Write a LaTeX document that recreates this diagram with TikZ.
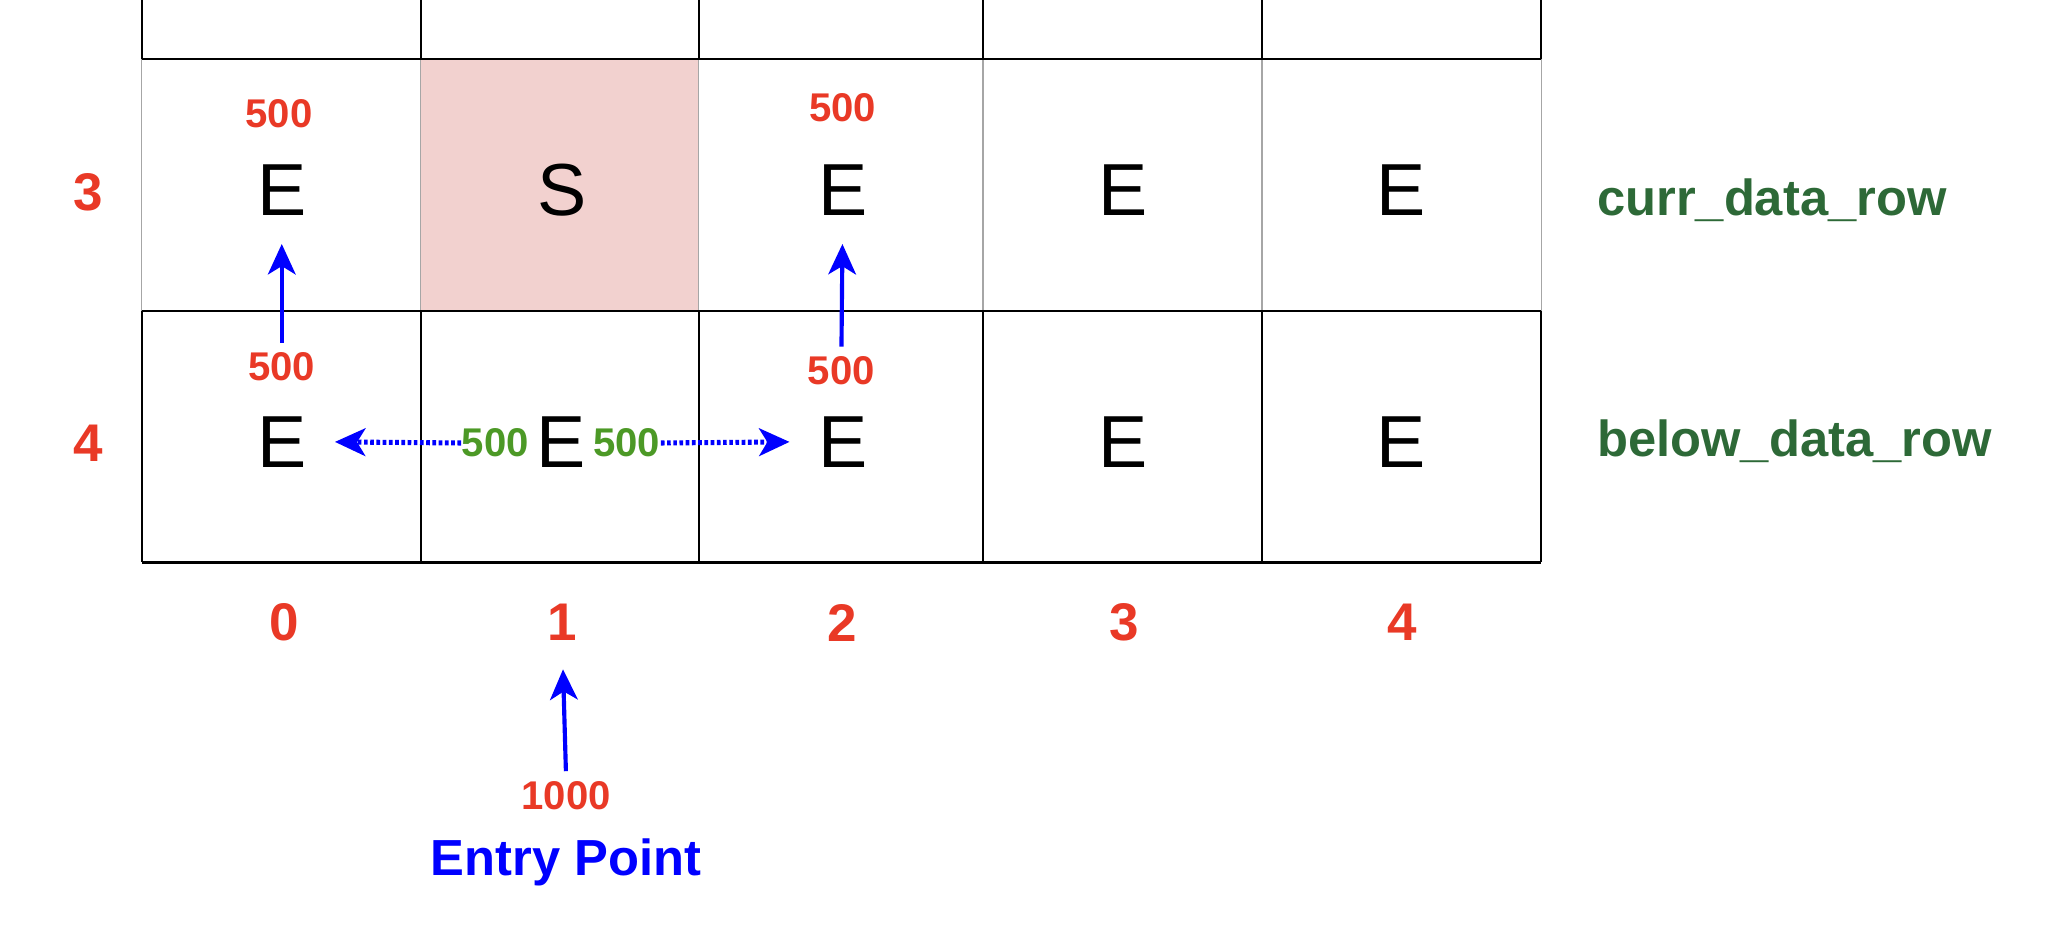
\documentclass[tikz,border=0pt]{standalone}
\usepackage{fontspec}
\setmainfont{Liberation Sans}
\usepackage{tikz}
\usetikzlibrary{arrows.meta}
\definecolor{numred}{RGB}{233,57,38}
\definecolor{costgreen}{RGB}{76,153,38}
\definecolor{rowgreen}{RGB}{45,105,55}
\definecolor{seatpink}{RGB}{242,209,207}

\begin{document}
\begin{tikzpicture}[x=0.01cm,y=-0.01cm]
\tikzstyle{every node}=[inner sep=0pt]
\tikzstyle{cell}=[font=\fontsize{16}{19}\selectfont]
\tikzstyle{idx}=[font=\bfseries\fontsize{11.5}{13}\selectfont, text=numred]
\tikzstyle{cost}=[font=\bfseries\fontsize{8.7}{10}\selectfont, text=numred]
\tikzstyle{hcost}=[cost, text=costgreen]
\tikzstyle{rowname}=[font=\bfseries\fontsize{11}{13}\selectfont, text=rowgreen, anchor=west]
\tikzstyle{gridline}=[black, line width=0.45pt]
\tikzstyle{thingrid}=[gray!70, line width=0.3pt]
\tikzstyle{move}=[blue, line width=0.9pt, -{Stealth[length=6.6pt,width=6pt,inset=1.8pt]}, shorten <=2pt, shorten >=6pt]
\tikzstyle{side}=[move, line width=1.1pt, dash pattern=on 0.8pt off 0.55pt, shorten <=0pt]
\useasboundingbox (0,0) rectangle (1570.3,715.7);
% grid
\fill[seatpink] (321,45) rectangle (533,237);
\foreach \x in {108,321,533,750,963,1176} {
  \draw[gridline] (\x,0) -- (\x,45);
  \draw[thingrid] (\x,45) -- (\x,237);
  \draw[gridline] (\x,237) -- (\x,429);
}
\foreach \y in {45,237} \draw[gridline] (108,\y) -- (1176,\y);
\draw[gridline, line width=0.6pt] (108,429) -- (1176,429);
% cells
\node[cell] (e30) at (215,145) {E};
\node[cell] (s31) at (429,145) {S};
\node[cell] (e32) at (643,145) {E};
\node[cell] (e33) at (857,145) {E};
\node[cell] (e34) at (1069,145) {E};
\node[cell] (e40) at (215,337) {E};
\node[cell] (e41) at (428,337) {E};
\node[cell] (e42) at (643,337) {E};
\node[cell] (e43) at (857,337) {E};
\node[cell] (e44) at (1069,337) {E};
% indices
\node[idx] (r3) at (67,147) {3};
\node[idx] (r4) at (67,338) {4};
\node[idx] (c0) at (217,475) {0};
\node[idx] (c1) at (429,475) {1};
\node[idx] (c2) at (643,475) {2};
\node[idx] (c3) at (858,475) {3};
\node[idx] (c4) at (1070,475) {4};
\node[rowname] (curr) at (1218,153) {curr\_data\_row};
\node[rowname] (below) at (1218,337) {below\_data\_row};
% costs
\node[cost] (t30) at (213,87) {500};
\node[cost] (t32) at (643,82) {500};
\node[cost] (w40) at (215,280) {500};
\node[cost] (w42) at (642,283) {500};
\node[hcost] (g41a) at (378,338) {500};
\node[hcost] (g41b) at (478,338) {500};
\node[cost] (w1000) at (432,607) {1000};
\node[font=\bfseries\fontsize{11}{13}\selectfont, text=blue] (entry) at (432,658) {Entry Point};
% moves
\draw[move] (w40.north) -- (e30.south);
\draw[move] (w42.north) -- (e32.south);
\draw[side] (g41a.west) -- (e40.east);
\draw[side] (g41b.east) -- (e42.west);
\draw[move] (w1000.north) -- (c1.south);
\end{tikzpicture}
\end{document}
